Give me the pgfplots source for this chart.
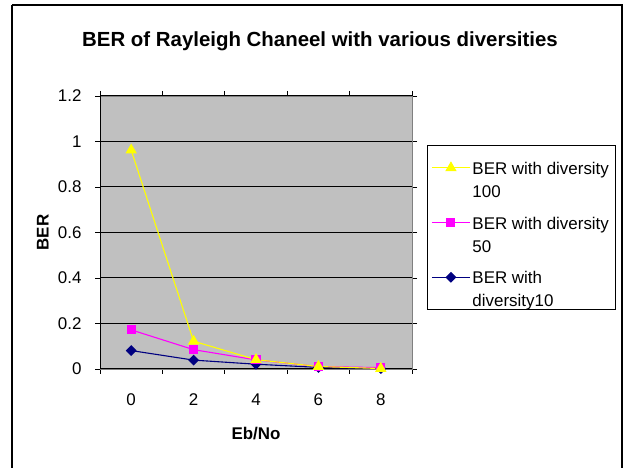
\documentclass[border=0pt]{standalone}
\usepackage{pgfplots}
\pgfplotsset{compat=1.18}
\usepackage{fontspec}
\setmainfont{Liberation Sans}

\definecolor{plotgray}{RGB}{192,192,192}
\definecolor{bordergray}{RGB}{128,128,128}
\definecolor{berYellow}{RGB}{255,255,0}
\definecolor{berMagenta}{RGB}{255,0,255}
\definecolor{berNavy}{RGB}{0,0,128}

\newcommand{\lab}{\fontsize{17}{23}\selectfont}
% two-line legend text, centred on the legend row
\newcommand{\twoline}[2]{\begin{tabular}{@{}l@{}}#1\\#2\end{tabular}}

\begin{document}
\begin{tikzpicture}[x=1bp,y=1bp]
  \useasboundingbox (0,0) rectangle (628,468);
  % chart frame (open at the bottom edge of the page)
  \draw[black, line width=1.3bp] (12,463) -- (622,463) -- (622,-10);
  \draw[black, line width=1.3bp] (12,463) -- (12,-10);

  \begin{axis}[
    at={(100bp,99bp)}, anchor=south west,
    scale only axis, width=312bp, height=273bp,
    xmin=-1, xmax=9, ymin=0, ymax=1.2,
    axis background/.style={fill=plotgray},
    axis line style={bordergray, line width=0.8bp},
    xtick={0,2,4,6,8},
    minor xtick={-1,1,3,5,7,9},
    ytick={0,0.2,0.4,0.6,0.8,1,1.2},
    major x tick style={draw=none},
    minor x tick style={black, line width=0.8bp},
    major y tick style={black, line width=0.8bp},
    tick align=outside,
    major tick length=5bp, minor tick length=5bp,
    ymajorgrids, major grid style={black, line width=1bp},
    /pgf/number format/assume math mode=true,
    tick label style={font=\lab},
    xticklabel style={anchor=base, yshift=-32bp},
    yticklabel style={anchor=east, xshift=-10bp},
    title={\fontsize{20.5}{24}\selectfont\bfseries BER of Rayleigh Chaneel with various diversities},
    title style={at={(axis description cs:0.705,1.18)}, anchor=center},
    xlabel={\lab\bfseries Eb/No},
    xlabel style={at={(axis description cs:0.5,-0.238)}, anchor=center},
    ylabel={\lab\bfseries BER},
    ylabel style={at={(axis description cs:-0.183,0.5)}, anchor=center, rotate=0},
    reverse legend,
    legend cell align=left,
    legend style={at={(axis description cs:1.048,0.82)}, anchor=north west,
      draw=black, line width=0.8bp, fill=white, font=\lab,
      inner xsep=4bp, inner ysep=11bp, row sep=22bp},
    legend image code/.code={%
      \draw[yshift=5bp, mark repeat=2, mark phase=2]
        plot coordinates {(0bp,0bp) (19bp,0bp) (38bp,0bp)};},
  ]
    % left and bottom axes in black
    \draw[black, line width=1bp] (axis cs:-1,0) -- (axis cs:-1,1.2);
    \draw[black, line width=1bp] (axis cs:-1,0) -- (axis cs:9,0);

    \addplot[berNavy, line width=1.1bp, mark=square*, mark size=3.3bp,
      mark options={rotate=45, fill=berNavy}]
      coordinates {(0,0.081) (2,0.039) (4,0.021) (6,0.007) (8,0.002)};
    \addlegendentry{\twoline{BER with}{diversity10}}

    \addplot[berMagenta, line width=1.1bp, mark=square*, mark size=4bp,
      mark options={fill=berMagenta}]
      coordinates {(0,0.172) (2,0.085) (4,0.040) (6,0.011) (8,0.006)};
    \addlegendentry{\twoline{BER with diversity}{50}}

    \addplot[berYellow, line width=1.1bp, mark=triangle*, mark size=5.5bp,
      mark options={fill=berYellow}]
      coordinates {(0,0.962) (2,0.122) (4,0.041) (6,0.011) (8,0.002)};
    \addlegendentry{\twoline{BER with diversity}{100}}
  \end{axis}
\end{tikzpicture}
\end{document}
